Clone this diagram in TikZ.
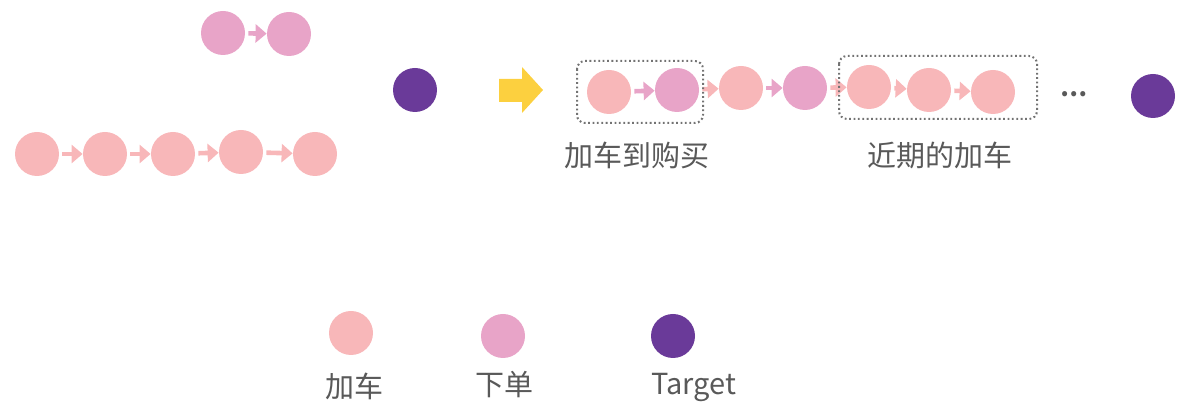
\documentclass[tikz,border=0pt]{standalone}
\usepackage{fontspec}
\setmainfont{Noto Sans CJK SC}
\usetikzlibrary{arrows.meta}

\definecolor{cart}{HTML}{F8B7B9}
\definecolor{order}{HTML}{E8A4C8}
\definecolor{target}{HTML}{6A3A99}
\definecolor{yarrow}{HTML}{FCD03F}
\definecolor{txt}{HTML}{595959}

\tikzset{
	ev/.style={circle,minimum size=22pt,inner sep=0pt,draw=none},
	addcart/.style={ev,fill=cart},
	buy/.style={ev,fill=order},
	tgt/.style={ev,fill=target},
	flow/.style={line width=2.3pt,-{Triangle[length=5.5pt,width=9pt]},shorten <=1.5pt},
	dotbox/.style={draw=black!55,line width=1pt,dash pattern=on 0.9pt off 1.3pt,rounded corners=4pt},
	lbl/.style={text=txt,font=\fontsize{14.5}{16}\selectfont}
}

\begin{document}
\begin{tikzpicture}[x=0.5pt,y=-0.5pt]
		
		\useasboundingbox (0,0) rectangle (1180,410);
		
		% top pair
		\node[buy] (t1) at (223,33) {};
		\node[buy] (t2) at (289,34) {};
		\draw[flow,order] (t1) -- (t2);
		
		\node[tgt] (p) at (415,90) {};
		
		% bottom row
		\node[addcart] (b1) at (37,154) {};
		\node[addcart] (b2) at (105,154) {};
		\node[addcart] (b3) at (173,154) {};
		\node[addcart] (b4) at (241,152) {};
		\node[addcart] (b5) at (315,154) {};
		\draw[flow,cart] (b1) -- (b2);
		\draw[flow,cart] (b2) -- (b3);
		\draw[flow,cart] (b3) -- (b4);
		\draw[flow,cart] (b4) -- (b5);
		
		% big arrow
		\fill[yarrow] (499,79) -- (522,79) -- (522,67) -- (543,90)
		-- (522,113) -- (522,102) -- (499,102) -- cycle;
		
		% merged sequence
		\node[addcart] (s1) at (609,92) {};
		\node[buy] (s2) at (677,90) {};
		\node[addcart] (s3) at (741,88) {};
		\node[buy] (s4) at (805,88) {};
		\node[addcart] (s5) at (869,87) {};
		\node[addcart] (s6) at (929,90) {};
		\node[addcart] (s7) at (993,92) {};
		\node[tgt] (s8) at (1153,96) {};
		\draw[flow,order] (s1) -- (s2);
		\draw[flow,cart] (s2) -- (s3);
		\draw[flow,order] (s3) -- (s4);
		\draw[flow,cart] (s4) -- (s5);
		\draw[flow,cart] (s5) -- (s6);
		\draw[flow,cart] (s6) -- (s7);
		\node[text=txt,font=\fontsize{12}{12}\selectfont\bfseries] (dots) at (1074,94) {…};
		
		\draw[dotbox] (577,61) rectangle (703,123);
		\draw[dotbox] (839,56) rectangle (1037,119);
		
		\node[lbl] (l1) at (637,155) {加车到购买};
		\node[lbl] (l2) at (940,155) {近期的加车};
		
		% legend
		\node[addcart] (k1) at (351,333) {};
		\node[buy] (k2) at (503,336) {};
		\node[tgt] (k3) at (673,336) {};
		\node[lbl] at (354,386) {加车};
		\node[lbl] at (504,385) {下单};
		\node[lbl] at (694,388) {Target};
		
	\end{tikzpicture}
\end{document}
